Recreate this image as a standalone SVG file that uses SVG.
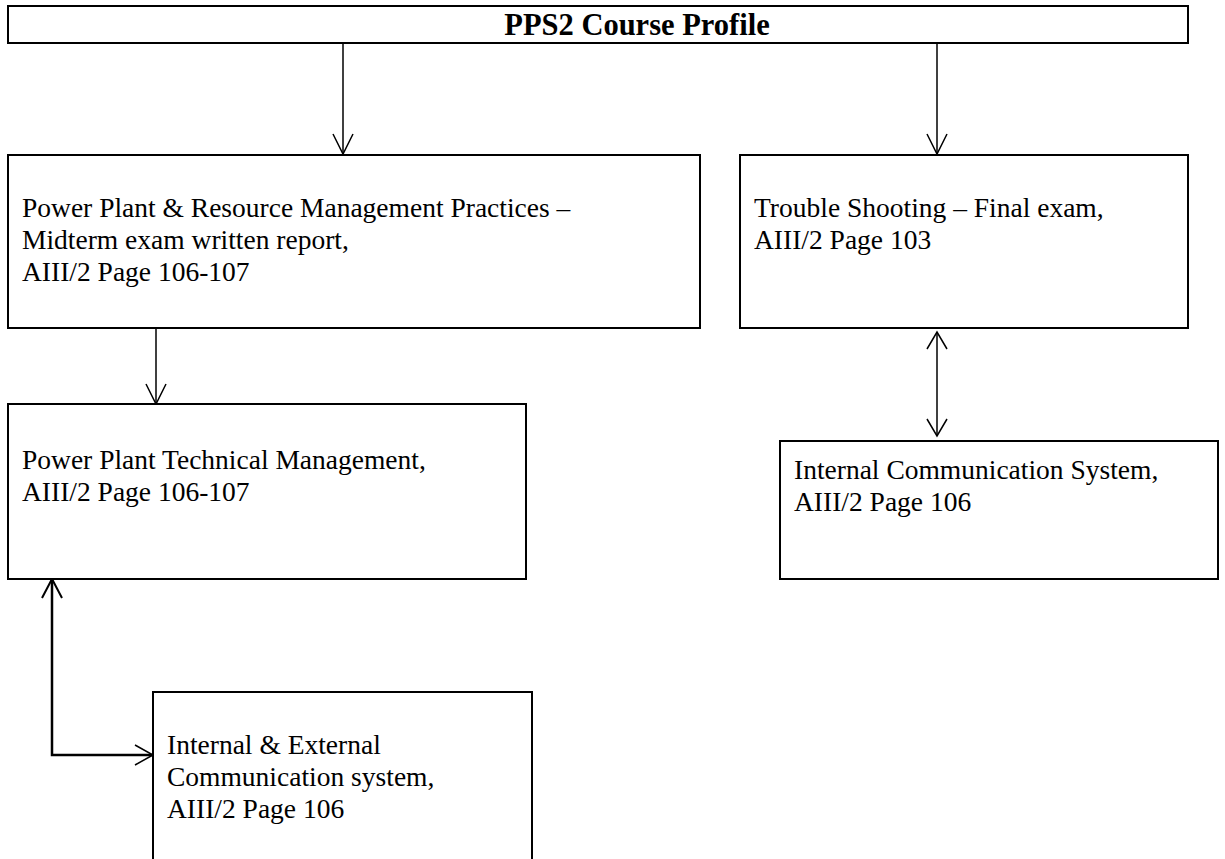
<svg xmlns="http://www.w3.org/2000/svg" width="1225" height="859" viewBox="0 0 1225 859">
<style>
.box{fill:#fff;stroke:#000;stroke-width:2}
.t{font-family:"Liberation Serif","Times New Roman",serif;font-size:27.5px;fill:#000}
.title{font-family:"Liberation Serif","Times New Roman",serif;font-size:30.5px;font-weight:bold;fill:#000}
.c{fill:none;stroke:#000;stroke-width:1.5}
.ah{fill:none;stroke:#000;stroke-width:1.5}
</style>
<rect width="1225" height="859" fill="#fff"/>
<g id="connectors">
<line class="c" x1="343" y1="43" x2="343" y2="154"/>
<polyline class="ah" points="333,134 343,154 353,134"/>
<line class="c" x1="937" y1="43" x2="937" y2="154"/>
<polyline class="ah" points="927,134 937,154 947,134"/>
<line class="c" x1="156" y1="329" x2="156" y2="404"/>
<polyline class="ah" points="146,384 156,404 166,384"/>
<line class="c" x1="937" y1="332" x2="937" y2="436"/>
<polyline class="ah" points="927,349 937,332 947,349"/>
<polyline class="ah" points="927,419 937,436 947,419"/>
<polyline class="c" points="52,579 52,755 153,755" style="stroke-width:2.5"/>
<polyline class="ah" points="42,598 52,579 62,598" style="stroke-width:2"/>
<polyline class="ah" points="135,745 153,755 135,765"/>
</g>
<g id="title">
<rect class="box" x="8" y="6" width="1180" height="37"/>
<text class="title" x="637" y="35" text-anchor="middle">PPS2 Course Profile</text>
</g>
<g id="node-a">
<rect class="box" x="8" y="155" width="692" height="173"/>
<text class="t" x="22" y="217">Power Plant &amp; Resource Management Practices –</text>
<text class="t" x="22" y="249">Midterm exam written report,</text>
<text class="t" x="22" y="281">AIII/2 Page 106-107</text>
</g>
<g id="node-b">
<rect class="box" x="740" y="155" width="448" height="173"/>
<text class="t" x="754" y="217">Trouble Shooting – Final exam,</text>
<text class="t" x="754" y="249">AIII/2 Page 103</text>
</g>
<g id="node-c">
<rect class="box" x="8" y="404" width="518" height="175"/>
<text class="t" x="22" y="469">Power Plant Technical Management,</text>
<text class="t" x="22" y="501">AIII/2 Page 106-107</text>
</g>
<g id="node-d">
<rect class="box" x="780" y="441" width="438" height="138"/>
<text class="t" x="794" y="479">Internal Communication System,</text>
<text class="t" x="794" y="511">AIII/2 Page 106</text>
</g>
<g id="node-e">
<rect class="box" x="153" y="692" width="379" height="180"/>
<text class="t" x="167" y="754">Internal &amp; External</text>
<text class="t" x="167" y="786">Communication system,</text>
<text class="t" x="167" y="818">AIII/2 Page 106</text>
</g>
</svg>
